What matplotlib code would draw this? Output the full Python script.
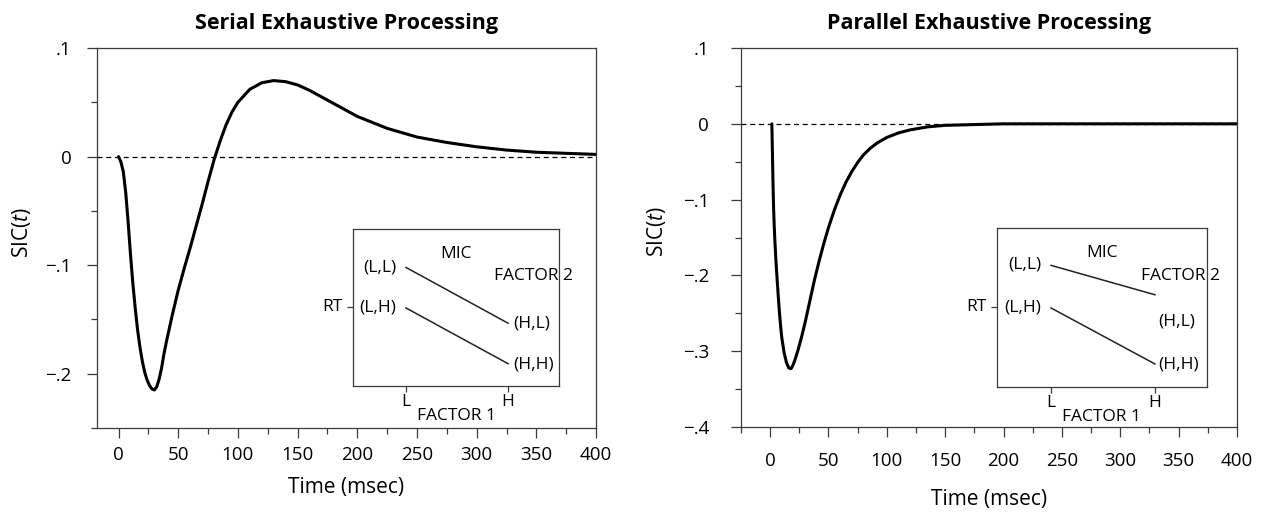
import matplotlib
matplotlib.use("Agg")
import matplotlib.pyplot as plt
from matplotlib.ticker import MultipleLocator

plt.rcParams['font.family'] = ['Open Sans', 'DejaVu Sans']
plt.rcParams['mathtext.fontset'] = 'custom'
plt.rcParams['mathtext.it'] = 'Open Sans:italic'
plt.rcParams['mathtext.rm'] = 'Open Sans'

# Serial exhaustive SIC(t)
serial_t = [0, 2, 4, 6, 8, 10, 12, 14, 16, 18, 20, 22, 24, 26, 28, 30, 32, 34, 36, 38,
            40, 42, 45, 50, 55, 60, 65, 70, 75, 80, 85, 90, 95, 100, 110, 120, 130, 140,
            150, 160, 175, 200, 225, 250, 275, 300, 325, 350, 375, 400]
serial_sic = [0.0, -0.005, -0.014, -0.033, -0.060, -0.090, -0.117, -0.140, -0.160, -0.176,
              -0.189, -0.199, -0.206, -0.211, -0.214, -0.215, -0.212, -0.205, -0.195, -0.182,
              -0.171, -0.161, -0.146, -0.123, -0.103, -0.084, -0.064, -0.044, -0.023, -0.003,
              0.014, 0.029, 0.041, 0.050, 0.062, 0.068, 0.070, 0.069, 0.066, 0.061,
              0.052, 0.037, 0.026, 0.018, 0.013, 0.009, 0.006, 0.004, 0.003, 0.002]

# Parallel exhaustive SIC(t)
parallel_t = [1.5, 2, 2.5, 3, 3.5, 4, 5, 6, 7, 8, 9, 10, 12, 14, 16, 18, 20, 22, 24, 27,
              30, 34, 38, 42, 46, 50, 55, 60, 65, 70, 75, 80, 86, 92, 100, 110, 120, 135,
              150, 175, 200, 250, 300, 350, 400]
parallel_sic = [0.0, -0.040, -0.080, -0.112, -0.134, -0.152, -0.181, -0.205, -0.228, -0.249,
                -0.267, -0.282, -0.302, -0.315, -0.322, -0.323, -0.317, -0.308, -0.298,
                -0.281, -0.262, -0.234, -0.206, -0.181, -0.158, -0.137, -0.114, -0.094,
                -0.077, -0.063, -0.051, -0.041, -0.032, -0.025, -0.018, -0.012, -0.008,
                -0.004, -0.002, -0.001, 0.0, 0.0, 0.0, 0.0, 0.0]

# MIC inset: mean RT at factor 1 = L, H for each factor 2 level
factor1_levels = ['L', 'H']
serial_rt_LL_HL = [0.755, 0.40]
serial_rt_LH_HH = [0.497, 0.142]
parallel_rt_LL_HL = [0.765, 0.58]
parallel_rt_LH_HH = [0.497, 0.145]

titles = ['Serial Exhaustive Processing', 'Parallel Exhaustive Processing']
serial_yticks = [-0.2, -0.1, 0.0, 0.1]
parallel_yticks = [-0.4, -0.3, -0.2, -0.1, 0.0, 0.1]

spine_col = '#3a3a3a'
fig = plt.figure(figsize=(12.72, 5.13), dpi=100)

main_pos = [[0.0763, 0.1657, 0.3923, 0.7407], [0.5825, 0.1676, 0.3899, 0.7388]]
inset_pos = [[0.2775, 0.2476, 0.162, 0.306], [0.7838, 0.2456, 0.165, 0.31]]


def fmt_tick(v):
    if abs(v) < 1e-9:
        return '0'
    s = f'{abs(v):.1f}'.lstrip('0')
    return ('\u2212' if v < 0 else '') + s


def draw_inset(ax, ll_hl, lh_hh, labels_pos):
    for s in ax.spines.values():
        s.set_color(spine_col)
        s.set_linewidth(0.9)
    ax.set_xlim(0.48, 2.5)
    ax.set_ylim(0, 1)
    ax.plot([1, 2], ll_hl, color='#222222', lw=1.1)
    ax.plot([1, 2], lh_hh, color='#222222', lw=1.1)
    ax.set_xticks([1, 2])
    ax.set_xticklabels(factor1_levels)
    ax.set_yticks([0.503])
    ax.set_yticklabels([])
    ax.tick_params(direction='out', length=4, width=0.9, color=spine_col, labelsize=12.5, pad=2)
    ax.set_xlabel('FACTOR 1', fontsize=12.5, labelpad=-2)
    ax.text(-0.05, 0.503, 'RT', transform=ax.transAxes, ha='right', va='center', fontsize=12.5)
    ax.text(0.5, 0.84, 'MIC', transform=ax.transAxes, ha='center', va='center', fontsize=12.5)
    for txt, x, y, ha in labels_pos:
        ax.text(x, y, txt, transform=ax.transAxes, ha=ha, va='center', fontsize=12.5)


serial_labels = [('(L,L)', 0.21, 0.755, 'right'), ('(L,H)', 0.21, 0.497, 'right'),
                 ('(H,L)', 0.78, 0.395, 'left'), ('(H,H)', 0.78, 0.14, 'left'),
                 ('FACTOR 2', 0.684, 0.70, 'left')]
parallel_labels = [('(L,L)', 0.21, 0.77, 'right'), ('(L,H)', 0.21, 0.50, 'right'),
                   ('(H,L)', 0.77, 0.41, 'left'), ('(H,H)', 0.77, 0.14, 'left'),
                   ('FACTOR 2', 0.685, 0.70, 'left')]

panels = [(serial_t, serial_sic, serial_yticks, (-0.25, 0.1), (-18, 400), 11.5, -0.128, 6, 9),
          (parallel_t, parallel_sic, parallel_yticks, (-0.4, 0.1), (-25, 400), 16, -0.147, 11, 14)]

for i, (t, sic, yt, ylim, xlim, ypad, ylab_x, xpad, xlabpad) in enumerate(panels):
    ax = fig.add_axes(main_pos[i])
    ax.axhline(0, color='black', lw=0.9, ls=(0, (4, 3)), zorder=1)
    ax.plot(t, sic, color='black', lw=2.2, zorder=2, solid_capstyle='round')
    ax.set_xlim(*xlim)
    ax.set_ylim(*ylim)
    ax.set_xticks(range(0, 401, 50))
    ax.xaxis.set_minor_locator(MultipleLocator(25))
    ax.set_yticks(yt)
    ax.set_yticklabels([fmt_tick(v) for v in yt])
    ax.yaxis.set_minor_locator(MultipleLocator(0.05))

    for s in ax.spines.values():
        s.set_color(spine_col)
        s.set_linewidth(0.9)
    ax.tick_params(which='major', direction='out', length=7, width=0.9, color=spine_col,
                   labelsize=13.5)
    ax.tick_params(which='minor', direction='out', length=4, width=0.9, color=spine_col)
    ax.tick_params(axis='x', pad=xpad)
    ax.tick_params(axis='y', pad=ypad)

    ax.set_xlabel('Time (msec)', fontsize=15, labelpad=xlabpad)
    ax.set_ylabel('SIC($t$)', fontsize=15)
    ax.yaxis.set_label_coords(ylab_x, 0.515)
    ax.set_title(titles[i], fontsize=15.5, fontweight='bold', pad=14)

    ins = fig.add_axes(inset_pos[i])
    if i == 0:
        draw_inset(ins, serial_rt_LL_HL, serial_rt_LH_HH, serial_labels)
    else:
        draw_inset(ins, parallel_rt_LL_HL, parallel_rt_LH_HH, parallel_labels)

fig.savefig('out.png', dpi=100, facecolor='white')
